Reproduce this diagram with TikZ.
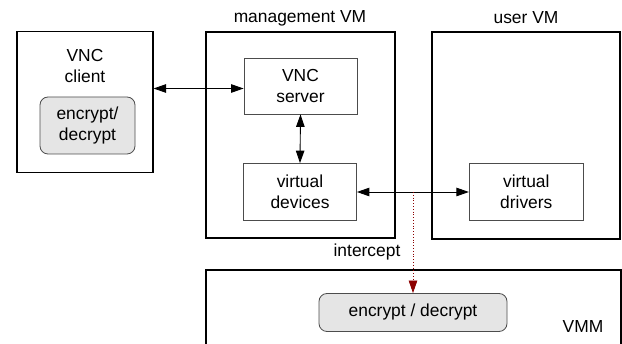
\documentclass[tikz,border=0pt]{standalone}
\usepackage{fontspec}
\setmainfont{Liberation Sans}
\usetikzlibrary{arrows.meta}
\usetikzlibrary{positioning}
\definecolor{cryptfill}{rgb}{0.9,0.9,0.9}
\definecolor{tapred}{rgb}{0.55,0,0}
\definecolor{innerline}{rgb}{0.3,0.3,0.3}

\begin{document}
\begin{tikzpicture}[x=1pt,y=-1pt,
	font=\fontsize{17.4}{20.5}\selectfont,
	vmbox/.style={draw=black, line width=1.1pt, inner sep=0pt},
	partbox/.style={draw=innerline, line width=0.8pt, align=center, inner sep=0pt},
	cryptbox/.style={partbox, rounded corners=8pt, fill=cryptfill},
	tip/.style={Triangle[length=12.5pt,width=8.5pt]},
	link/.style={{Triangle[length=12.5pt,width=8.5pt]}-{Triangle[length=12.5pt,width=8.5pt]}, line width=0.9pt}]
		\useasboundingbox (0,0) rectangle (622,344);
		
		%outer boxes
		\node[vmbox, minimum width=136pt, minimum height=141pt] (client) at (85,102) {};
		\node[vmbox, minimum width=189pt, minimum height=206pt] (mgmt) at (300.5,135) {};
		\node[vmbox, minimum width=188pt, minimum height=207pt] (user) at (526,135.5) {};
		\node[vmbox, minimum width=415pt, minimum height=110pt] (vmm) at (413.5,325) {};
		
		%labels
		\node[align=center] (clientlabel) at (85,66) {VNC\\client};
		\node (mgmtlabel) at (300,18) {management VM};
		\node (userlabel) at (526,18) {user VM};
		\node (vmmlabel) at (583,327) {VMM};
		\node (interceptlabel) at (367,252) {intercept};
		
		%inner boxes
		\node[cryptbox, minimum width=95pt, minimum height=57pt] (clientcrypt) at (87.5,125.5) {encrypt/\\decrypt};
		\node[partbox, minimum width=113pt, minimum height=56pt] (server) at (300.5,86) {VNC\\server};
		\node[partbox, minimum width=113pt, minimum height=57pt] (devices) at (300,192) {virtual\\devices};
		\node[partbox, minimum width=114pt, minimum height=57pt] (drivers) at (526.3,192) {virtual\\drivers};
		\node[cryptbox, minimum width=188pt, minimum height=38pt] (vmmcrypt) at (413,312.5) {encrypt / decrypt};
		
		%connectors
		\draw[link] ([yshift=-2.5pt]server.west -| client.east) -- ([yshift=-2.5pt]server.west);
		\draw[link] (server.south) -- (devices.north);
		\draw[link] (devices.east) -- (drivers.west);
		\coordinate (tap) at (413,192);
		\draw[tapred, dotted, line width=0.8pt, -{Triangle[length=12.5pt,width=8.5pt]}] (tap) -- (vmmcrypt.north);
\end{tikzpicture}
\end{document}
